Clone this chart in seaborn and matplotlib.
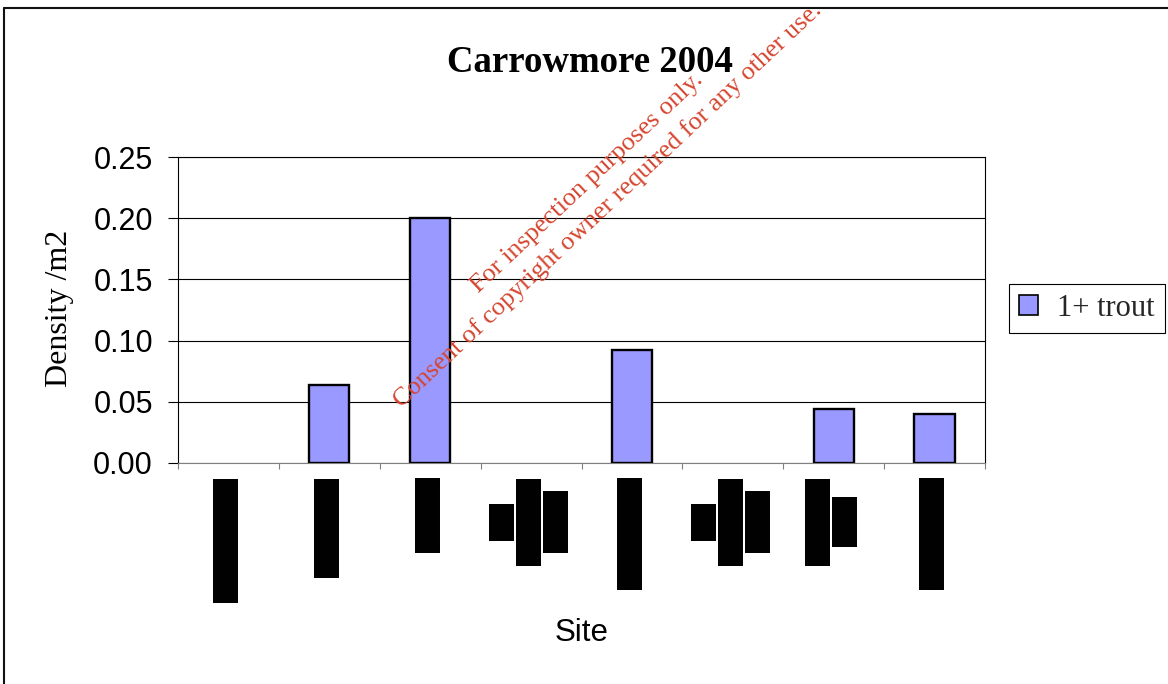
import matplotlib
matplotlib.use("Agg")
import numpy as np
import pandas as pd
import matplotlib.pyplot as plt
from matplotlib.lines import Line2D
from matplotlib.patches import Patch
from matplotlib.ticker import FormatStrFormatter
import seaborn as sns

# ---- data -------------------------------------------------------------
site_ids = ["1", "2", "3", "4", "5", "6", "7", "8"]
density = [0.0, 0.064, 0.200, 0.0, 0.092, 0.0, 0.044, 0.040]
series_name = "1+ trout"
# Site names are withheld; each is printed as a solid redaction bar.
site_labels = [
    "██████████",
    "████████",
    "██████",
    "███\n███████\n█████",
    "█████████",
    "███\n███████\n█████",
    "███████\n████",
    "█████████",
]
y_ticks = [0.00, 0.05, 0.10, 0.15, 0.20, 0.25]
title = "Carrowmore 2004"
x_title = "Site"
y_title = "Density /m2"
watermark = ("For inspection purposes only.\n"
             "Consent of copyright owner required for any other use.")

bar_color = "#9999ff"

# ---- figure -----------------------------------------------------------
sns.set_theme(style="white")
plt.rcParams["font.family"] = ["Liberation Sans", "DejaVu Sans"]

W, H = 1168, 684
fig = plt.figure(figsize=(W / 100, H / 100), dpi=100)
fig.patch.set_facecolor("white")
ax = fig.add_axes([178 / W, 1 - 463 / H, 807 / W, 306 / H])

df = pd.DataFrame({"site": site_ids, "density": density})
sns.barplot(data=df, x="site", y="density", order=site_ids, color=bar_color,
            saturation=1, width=0.4, edgecolor="black", linewidth=1.7,
            ax=ax, zorder=3)
for p in ax.patches:
    if p.get_height() == 0:
        p.set_linewidth(0)

ax.set_xlim(-0.5, len(site_ids) - 0.5)
ax.set_ylim(0, 0.25)
ax.set_yticks(y_ticks)
ax.yaxis.set_major_formatter(FormatStrFormatter("%.2f"))
ax.set_xticks(np.arange(-0.5, len(site_ids), 1.0))
ax.set_xticklabels([])

ax.tick_params(axis="y", which="major", left=True, direction="out",
               length=7.2, width=0.8, color="black", pad=10.8,
               labelsize=22, labelcolor="black")
ax.tick_params(axis="x", which="major", bottom=True, direction="out",
               length=4.3, width=0.8, color="#808080")
for lab in ax.get_yticklabels():
    lab.set_family("Liberation Sans")

ax.grid(axis="y", color="black", linewidth=0.8)
ax.grid(axis="x", visible=False)
ax.set_axisbelow(True)
for side, sp in ax.spines.items():
    sp.set_visible(True)
    sp.set_linewidth(0.8)
    sp.set_color("#808080" if side == "bottom" else "black")

# redacted site names below the axis (hard-edged so the blocks join cleanly)
for i, lab in enumerate(site_labels):
    ax.text(i - 0.015, -0.049, lab, transform=ax.get_xaxis_transform(),
            rotation=90, ha="center", va="top", multialignment="center",
            fontsize=14.85, family="DejaVu Sans Mono", color="black",
            linespacing=1.1, antialiased=False)

ax.set_xlabel(x_title, fontsize=22.5, family="Liberation Sans", color="black")
ax.xaxis.set_label_coords(0.5, -0.506)
ax.set_ylabel(y_title, fontsize=23, family="Liberation Serif", color="black")
ax.yaxis.set_label_coords(-0.129, 0.505)

fig.text(590 / W, 1 - 72 / H, title, ha="center", va="baseline",
         fontsize=26.5, fontweight="bold", family="Liberation Serif",
         color="black")

handle = Patch(facecolor=bar_color, edgecolor="black", linewidth=1.2)
leg = fig.legend(handles=[handle], labels=[series_name], loc="center left",
                 bbox_to_anchor=(1009 / W, 1 - 308.5 / H), borderaxespad=0,
                 frameon=True, fancybox=False, shadow=False, framealpha=1,
                 edgecolor="black",
                 prop={"family": "Liberation Serif", "size": 22},
                 handlelength=0.62, handleheight=0.62, handletextpad=0.62,
                 borderpad=0.33)
leg.get_frame().set_linewidth(0.8)

# outer frame of the chart area
fx, fy = 4 / W, 1 - 8 / H
fig.add_artist(Line2D([fx, fx], [0, fy], transform=fig.transFigure,
                      color="#111111", linewidth=1.5))
fig.add_artist(Line2D([fx, 1], [fy, fy], transform=fig.transFigure,
                      color="#111111", linewidth=1.5))

fig.text(597.5 / W, 1 - 194 / H, watermark, rotation=43.3,
         rotation_mode="anchor", ha="center", va="center",
         multialignment="center", color="#d5452f", fontsize=18.9,
         family="Liberation Serif", linespacing=1.45, zorder=10)

fig.savefig("out.png", dpi=100, facecolor="white")
